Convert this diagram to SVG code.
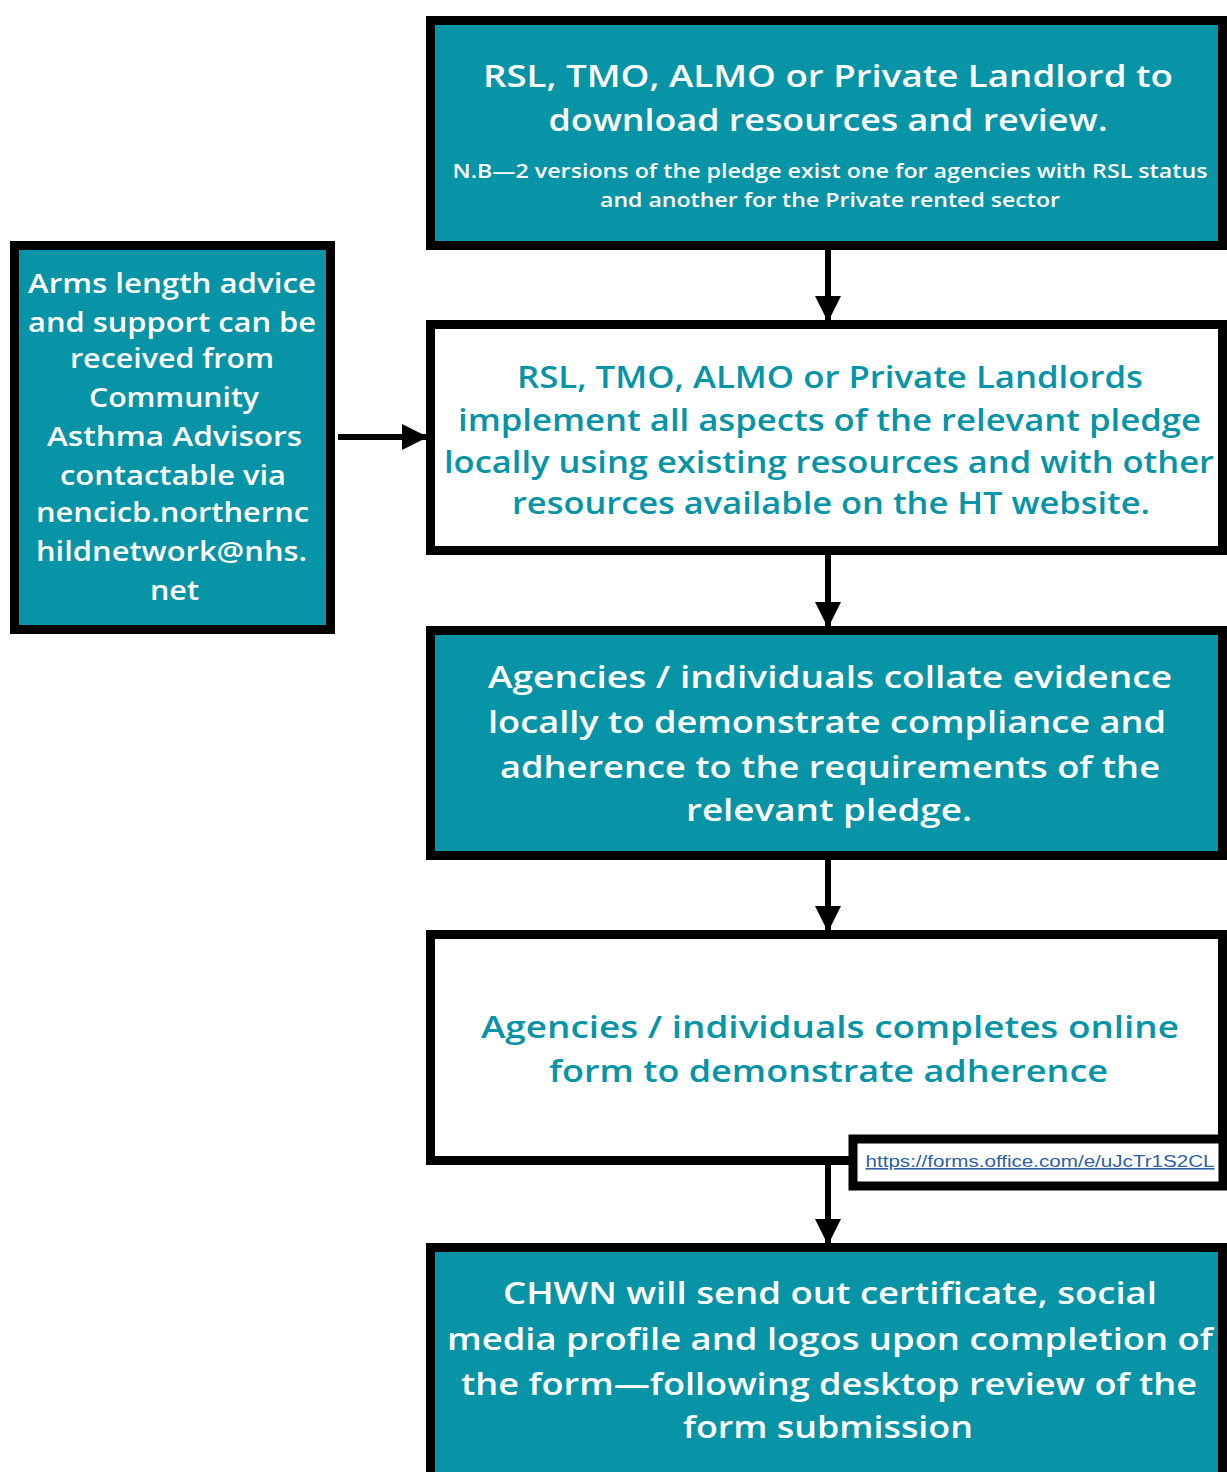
<svg xmlns="http://www.w3.org/2000/svg" width="1227" height="1472" viewBox="0 0 1227 1472">
<style>
.teal{fill:#0694a6;stroke:#000;stroke-width:9}
.white{fill:#fff;stroke:#000;stroke-width:9}
.t{font-family:"Open Sans","Liberation Sans",sans-serif;font-weight:600;text-anchor:middle}
.w{fill:#fff}
.c{fill:#0694a6}
.big{font-size:31px}
.sm{font-size:20px}
.lf{font-size:27px}
.conn{stroke:#000;stroke-width:6;fill:none}
</style>
<defs>
<marker id="ah" markerUnits="userSpaceOnUse" markerWidth="26" markerHeight="26" viewBox="0 0 26 26" refX="24" refY="13" orient="auto">
<path d="M0,0 L26,13 L0,26 Z" fill="#000"/>
</marker>
</defs>
<rect width="1227" height="1472" fill="#fff"/>
<g id="connectors">
<line class="conn" x1="828" y1="250" x2="828" y2="320" marker-end="url(#ah)"/>
<line class="conn" x1="828" y1="555" x2="828" y2="626" marker-end="url(#ah)"/>
<line class="conn" x1="828" y1="860" x2="828" y2="930" marker-end="url(#ah)"/>
<line class="conn" x1="828" y1="1165" x2="828" y2="1243" marker-end="url(#ah)"/>
<line class="conn" x1="338" y1="437" x2="426" y2="437" marker-end="url(#ah)"/>
</g>
<g id="node1">
<rect class="teal" x="430.5" y="20.5" width="792" height="225"/>
<text class="t w big" x="828" y="87" textLength="690" lengthAdjust="spacingAndGlyphs">RSL, TMO, ALMO or Private Landlord to</text>
<text class="t w big" x="828" y="131" textLength="559" lengthAdjust="spacingAndGlyphs">download resources and review.</text>
<text class="t w sm" x="830" y="178" textLength="755" lengthAdjust="spacingAndGlyphs">N.B—2 versions of the pledge exist one for agencies with RSL status</text>
<text class="t w sm" x="830" y="207" textLength="460" lengthAdjust="spacingAndGlyphs">and another for the Private rented sector</text>
</g>
<g id="node2">
<rect class="white" x="430.5" y="324.5" width="792" height="226"/>
<text class="t c big" x="830" y="388" textLength="626" lengthAdjust="spacingAndGlyphs">RSL, TMO, ALMO or Private Landlords</text>
<text class="t c big" x="829.5" y="431" textLength="743" lengthAdjust="spacingAndGlyphs">implement all aspects of the relevant pledge</text>
<text class="t c big" x="829" y="473" textLength="770" lengthAdjust="spacingAndGlyphs">locally using existing resources and with other</text>
<text class="t c big" x="831" y="514" textLength="638" lengthAdjust="spacingAndGlyphs">resources available on the HT website.</text>
</g>
<g id="node3">
<rect class="teal" x="430.5" y="630.5" width="792" height="225"/>
<text class="t w big" x="830" y="688" textLength="684" lengthAdjust="spacingAndGlyphs">Agencies / individuals collate evidence</text>
<text class="t w big" x="827" y="733" textLength="678" lengthAdjust="spacingAndGlyphs">locally to demonstrate compliance and</text>
<text class="t w big" x="830" y="778" textLength="660" lengthAdjust="spacingAndGlyphs">adherence to the requirements of the</text>
<text class="t w big" x="829" y="821" textLength="286" lengthAdjust="spacingAndGlyphs">relevant pledge.</text>
</g>
<g id="node4">
<rect class="white" x="430.5" y="934.5" width="792" height="226"/>
<text class="t c big" x="830" y="1038" textLength="698" lengthAdjust="spacingAndGlyphs">Agencies / individuals completes online</text>
<text class="t c big" x="828.5" y="1082" textLength="559" lengthAdjust="spacingAndGlyphs">form to demonstrate adherence</text>
</g>
<g id="url">
<rect class="white" x="853" y="1139" width="370" height="47"/>
<text x="1040" y="1167" font-family="Liberation Sans, Arial, sans-serif" font-size="16" fill="#2f5fa6" text-anchor="middle" text-decoration="underline" textLength="349" lengthAdjust="spacingAndGlyphs">https://forms.office.com/e/uJcTr1S2CL</text>
</g>
<g id="node5">
<rect class="teal" x="430.5" y="1247.5" width="792" height="230"/>
<text class="t w big" x="830" y="1304" textLength="654" lengthAdjust="spacingAndGlyphs">CHWN will send out certificate, social</text>
<text class="t w big" x="830" y="1350" textLength="766" lengthAdjust="spacingAndGlyphs">media profile and logos upon completion of</text>
<text class="t w big" x="829" y="1395" textLength="736" lengthAdjust="spacingAndGlyphs">the form—following desktop review of the</text>
<text class="t w big" x="828" y="1438" textLength="290" lengthAdjust="spacingAndGlyphs">form submission</text>
</g>
<g id="node6">
<rect class="teal" x="14.5" y="245.5" width="316" height="384"/>
<text class="t w lf" x="172" y="293" textLength="288" lengthAdjust="spacingAndGlyphs">Arms length advice</text>
<text class="t w lf" x="172" y="332" textLength="288" lengthAdjust="spacingAndGlyphs">and support can be</text>
<text class="t w lf" x="172" y="368" textLength="204" lengthAdjust="spacingAndGlyphs">received from</text>
<text class="t w lf" x="174" y="407" textLength="170" lengthAdjust="spacingAndGlyphs">Community</text>
<text class="t w lf" x="174.5" y="446" textLength="255" lengthAdjust="spacingAndGlyphs">Asthma Advisors</text>
<text class="t w lf" x="173" y="485" textLength="226" lengthAdjust="spacingAndGlyphs">contactable via</text>
<text class="t w lf" x="172.5" y="522" textLength="273" lengthAdjust="spacingAndGlyphs">nencicb.northernc</text>
<text class="t w lf" x="171.5" y="561" textLength="271" lengthAdjust="spacingAndGlyphs">hildnetwork@nhs.</text>
<text class="t w lf" x="174.5" y="600" textLength="49" lengthAdjust="spacingAndGlyphs">net</text>
</g>
</svg>
